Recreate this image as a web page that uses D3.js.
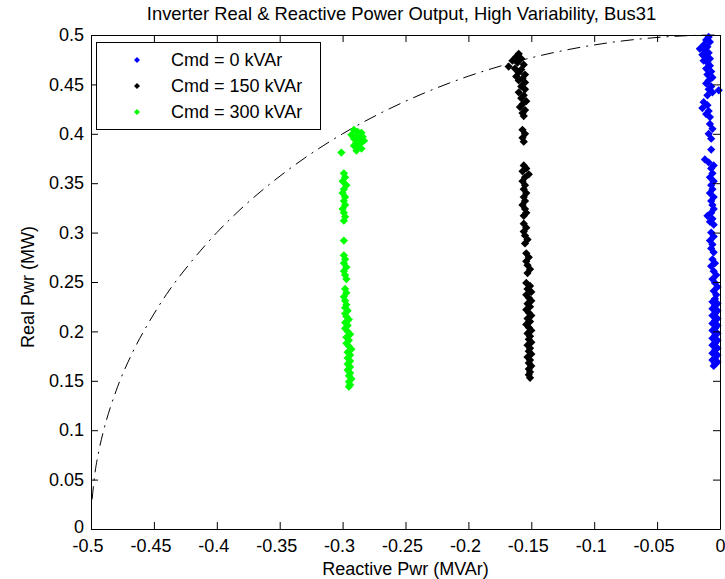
<!DOCTYPE html>
<html><head><meta charset="utf-8">
<script src="https://cdn.jsdelivr.net/npm/d3@7"></script>
<style>
html,body{margin:0;padding:0;background:#fff;}
text{font-family:"Liberation Sans",Arial,Helvetica,sans-serif;fill:#000;}
</style></head>
<body><svg id="chart" width="725" height="579"></svg>
<script>
const title = "Inverter Real & Reactive Power Output, High Variability, Bus31";
const xLabel = "Reactive Pwr (MVAr)";
const yLabel = "Real Pwr (MW)";
const xTicks = [-0.5,-0.45,-0.4,-0.35,-0.3,-0.25,-0.2,-0.15,-0.1,-0.05,0];
const xTickLabels = ["-0.5","-0.45","-0.4","-0.35","-0.3","-0.25","-0.2","-0.15","-0.1","-0.05","0"];
const yTicks = [0,0.05,0.1,0.15,0.2,0.25,0.3,0.35,0.4,0.45,0.5];
const yTickLabels = ["0","0.05","0.1","0.15","0.2","0.25","0.3","0.35","0.4","0.45","0.5"];
const seriesNames = ["Cmd = 0 kVAr","Cmd = 150 kVAr","Cmd = 300 kVAr"];
const seriesColors = ["#0000ff","#000000","#00ff00"];

// [reactive MVAr, real MW]
const cmd0 = [
[-0.009,0.498],[-0.011,0.495],[-0.008,0.493],[-0.013,0.490],[-0.010,0.488],[-0.016,0.486],[-0.012,0.484],[-0.009,0.482],[-0.014,0.480],[-0.011,0.478],[-0.008,0.476],[-0.013,0.474],[-0.010,0.472],
[-0.008,0.469],[-0.011,0.466],[-0.007,0.463],[-0.010,0.460],[-0.006,0.457],[-0.009,0.454],[-0.011,0.451],[-0.007,0.448],[-0.009,0.445],[-0.006,0.442],[-0.010,0.439],
[-0.001,0.444],
[-0.013,0.432],[-0.010,0.429],[-0.014,0.426],[-0.009,0.423],[-0.011,0.420],[-0.008,0.417],
[-0.008,0.410],[-0.006,0.405],[-0.009,0.400],[-0.007,0.395],
[-0.007,0.384],
[-0.012,0.374],[-0.009,0.371],[-0.005,0.368],[-0.007,0.365],
[-0.006,0.360],[-0.008,0.356],[-0.005,0.352],[-0.007,0.348],[-0.006,0.344],[-0.008,0.340],[-0.005,0.336],[-0.007,0.332],[-0.006,0.328],[-0.005,0.324],
[-0.007,0.320],[-0.010,0.317],[-0.006,0.314],[-0.008,0.311],[-0.005,0.308],
[-0.007,0.300],[-0.005,0.296],[-0.008,0.292],[-0.006,0.288],[-0.007,0.284],[-0.005,0.280],
[-0.006,0.273],[-0.004,0.269],[-0.007,0.266],
[-0.005,0.261],[-0.003,0.257],[-0.006,0.253],[-0.004,0.249],[-0.002,0.245],[-0.005,0.241],[-0.003,0.237],[-0.004,0.233],
[-0.006,0.230],[-0.002,0.228],[-0.004,0.226],[-0.006,0.223],[-0.002,0.221],[-0.004,0.218],[-0.006,0.216],[-0.002,0.213],[-0.004,0.211],[-0.006,0.208],[-0.002,0.206],[-0.004,0.203],[-0.006,0.201],[-0.002,0.198],[-0.004,0.196],[-0.006,0.193],[-0.002,0.191],[-0.004,0.188],[-0.006,0.186],[-0.002,0.183],[-0.004,0.181],[-0.006,0.178],[-0.002,0.176],[-0.004,0.173],[-0.006,0.171],[-0.002,0.169],[-0.004,0.167],[-0.005,0.165]
];
const cmd150 = [
[-0.160,0.481],[-0.162,0.478],[-0.158,0.476],[-0.165,0.474],[-0.161,0.472],[-0.156,0.470],[-0.168,0.468],[-0.163,0.466],[-0.158,0.465],[-0.160,0.462],[-0.155,0.460],[-0.162,0.458],[-0.157,0.456],[-0.160,0.454],[-0.155,0.452],
[-0.158,0.448],[-0.155,0.445],[-0.160,0.442],[-0.156,0.439],[-0.158,0.436],[-0.154,0.433],[-0.157,0.430],[-0.159,0.427],[-0.155,0.424],[-0.157,0.421],[-0.156,0.418],
[-0.157,0.404],[-0.155,0.400],[-0.157,0.396],[-0.156,0.392],
[-0.156,0.368],[-0.154,0.365],[-0.157,0.362],[-0.152,0.359],[-0.155,0.356],[-0.157,0.352],[-0.155,0.348],[-0.156,0.344],[-0.154,0.340],[-0.156,0.336],[-0.155,0.332],[-0.157,0.328],[-0.155,0.324],[-0.154,0.320],[-0.156,0.317],
[-0.156,0.309],[-0.154,0.305],[-0.156,0.301],[-0.155,0.297],[-0.153,0.293],[-0.155,0.289],
[-0.154,0.279],[-0.152,0.275],[-0.154,0.271],[-0.153,0.267],[-0.151,0.263],[-0.153,0.259],
[-0.154,0.249],[-0.151,0.246],[-0.153,0.243],[-0.150,0.240],[-0.154,0.237],[-0.152,0.234],[-0.150,0.231],[-0.153,0.228],[-0.151,0.225],[-0.154,0.222],[-0.152,0.219],[-0.150,0.216],[-0.153,0.213],[-0.151,0.210],[-0.154,0.207],[-0.152,0.204],[-0.150,0.201],[-0.153,0.198],[-0.151,0.195],[-0.152,0.192],[-0.150,0.189],[-0.153,0.186],[-0.151,0.183],[-0.152,0.180],[-0.150,0.177],[-0.153,0.174],[-0.151,0.171],[-0.152,0.168],[-0.150,0.165],[-0.152,0.162],[-0.151,0.159],[-0.152,0.156],[-0.151,0.153]
];
const cmd300 = [
[-0.291,0.404],[-0.288,0.402],[-0.285,0.401],[-0.293,0.399],[-0.289,0.398],[-0.284,0.397],[-0.291,0.395],[-0.287,0.394],[-0.283,0.393],[-0.289,0.391],[-0.286,0.390],[-0.291,0.388],[-0.288,0.386],[-0.285,0.385],[-0.289,0.383],
[-0.301,0.381],
[-0.299,0.360],[-0.298,0.356],[-0.300,0.352],[-0.297,0.348],[-0.299,0.344],[-0.300,0.340],[-0.298,0.336],[-0.299,0.332],[-0.298,0.328],[-0.300,0.324],[-0.299,0.320],[-0.298,0.316],[-0.299,0.312],
[-0.299,0.292],
[-0.299,0.277],[-0.298,0.273],[-0.299,0.269],[-0.297,0.265],[-0.299,0.261],[-0.298,0.257],[-0.297,0.253],
[-0.298,0.243],[-0.297,0.239],[-0.299,0.235],[-0.298,0.231],[-0.297,0.227],
[-0.298,0.224],[-0.296,0.221],[-0.298,0.218],[-0.297,0.215],[-0.295,0.212],[-0.298,0.209],[-0.296,0.206],[-0.298,0.203],[-0.296,0.200],[-0.294,0.197],[-0.297,0.194],[-0.295,0.191],[-0.297,0.188],[-0.295,0.185],[-0.293,0.182],[-0.296,0.179],[-0.294,0.176],[-0.296,0.173],[-0.294,0.170],[-0.296,0.167],[-0.294,0.164],[-0.296,0.161],[-0.294,0.158],[-0.295,0.155],[-0.293,0.152],[-0.295,0.149],[-0.294,0.146],[-0.295,0.144]
];
// capability limit curve (dash-dot)
const limitCurve = [
[-0.4991,0.03],[-0.4975,0.05],[-0.4936,0.08],[-0.49,0.0995],[-0.48,0.14],[-0.468,0.176],[-0.455,0.207],[-0.44,0.2375],[-0.42,0.271],[-0.40,0.30],[-0.38,0.325],[-0.357,0.35],[-0.33,0.3756],[-0.30,0.40],[-0.27,0.4208],[-0.235,0.4413],[-0.20,0.4583],[-0.16,0.4737],[-0.12,0.4854],[-0.08,0.4936],[-0.05,0.4975],[-0.02,0.4996],[0,0.5]
];

const W = 725, H = 579;
const m = {left:91, right:5, top:35, bottom:50};
const pw = W - m.left - m.right, ph = H - m.top - m.bottom;
const FS = 18;

const svg = d3.select("#chart");
svg.append("rect").attr("width",W).attr("height",H).attr("fill","#fff");
const g = svg.append("g").attr("transform",`translate(${m.left},${m.top})`);

const x = d3.scaleLinear().domain([-0.5,0]).range([0,pw]);
const y = d3.scaleLinear().domain([0,0.5]).range([ph,0]);

// curve
g.append("path").datum(limitCurve)
  .attr("fill","none").attr("stroke","#000").attr("stroke-width",1)
  .attr("stroke-dasharray","13,6,2,6")
  .attr("d", d3.line().x(d=>x(d[0])).y(d=>y(d[1])).curve(d3.curveMonotoneX));

const diamond = {draw(ctx,size){const r=Math.sqrt(size/2);ctx.moveTo(0,-r);ctx.lineTo(r,0);ctx.lineTo(0,r);ctx.lineTo(-r,0);ctx.closePath();}};
const sym = d3.symbol().type(diamond).size(34);

[cmd0,cmd150,cmd300].forEach((data,i)=>{
  g.append("g").selectAll("path").data(data).join("path")
    .attr("d",sym)
    .attr("transform",d=>`translate(${x(d[0])},${y(d[1])})`)
    .attr("fill",seriesColors[i]);
});

// axes
const tl = 7;
const ax = g.append("g").attr("transform",`translate(0,${ph})`)
  .call(d3.axisBottom(x).tickValues(xTicks).tickFormat((d,i)=>xTickLabels[i]).tickSizeInner(-tl).tickSizeOuter(0).tickPadding(10));
ax.selectAll("text").attr("dx",(d)=>d<0?"-3.5":"0");
const ay = g.append("g")
  .call(d3.axisLeft(y).tickValues(yTicks).tickFormat((d,i)=>yTickLabels[i]).tickSizeInner(-tl).tickSizeOuter(0).tickPadding(7));
ay.selectAll(".tick text").attr("dy",(d)=>d===0?"0.2em":"0.32em");
g.append("g").call(d3.axisTop(x).tickValues(xTicks).tickFormat("").tickSizeInner(-tl).tickSizeOuter(0));
g.append("g").attr("transform",`translate(${pw},0)`)
  .call(d3.axisRight(y).tickValues(yTicks).tickFormat("").tickSizeInner(-tl).tickSizeOuter(0));
g.selectAll(".tick text").attr("font-size",FS).attr("font-family","Liberation Sans, Arial, sans-serif").attr("fill","#000");
g.selectAll(".domain, .tick line").attr("stroke","#000").attr("stroke-width",1);

// title & labels
svg.append("text").attr("x",m.left+pw/2-4).attr("y",20).attr("text-anchor","middle").attr("font-size",18.4).text(title);
svg.append("text").attr("x",m.left+pw/2).attr("y",575).attr("text-anchor","middle").attr("font-size",FS).text(xLabel);
svg.append("text").attr("transform",`translate(34,${m.top+ph/2+5}) rotate(-90)`).attr("text-anchor","middle").attr("font-size",FS).text(yLabel);

// legend
const lg = svg.append("g");
lg.append("rect").attr("x",96.5).attr("y",42.5).attr("width",224).attr("height",87).attr("fill","#fff").attr("stroke","#000").attr("stroke-width",1);
seriesNames.forEach((name,i)=>{
  const yy = 60 + i*26;
  lg.append("path").attr("d",d3.symbol().type(diamond).size(18)).attr("transform",`translate(137,${yy})`).attr("fill",seriesColors[i]);
  lg.append("text").attr("x",171).attr("y",yy).attr("dy","0.35em").attr("font-size",FS).text(name);
});
</script></body></html>
